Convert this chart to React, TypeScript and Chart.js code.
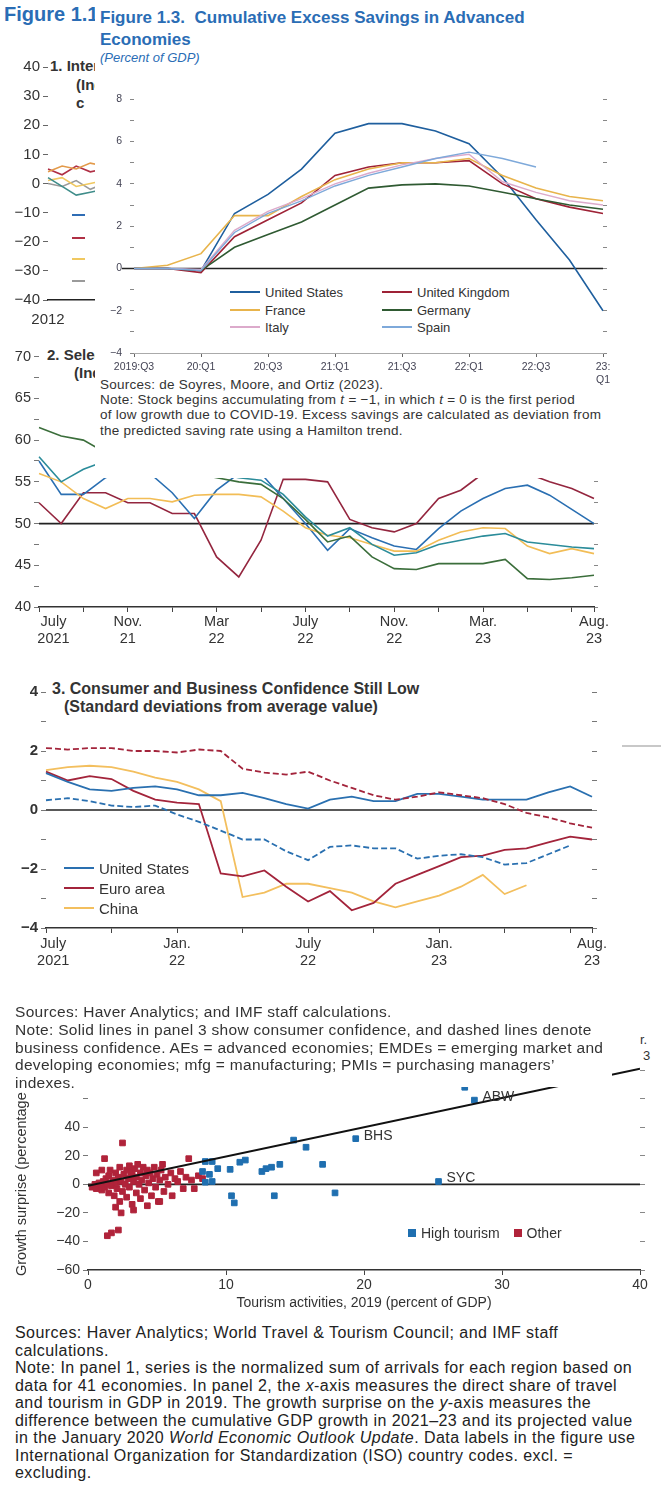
import React, { useEffect, useRef } from "react";
import { Chart, registerables } from "chart.js";

const FS = '"Liberation Sans",Arial,Helvetica,sans-serif';

// ---------- Background fragment: Figure 1.1 ----------
const figALabels = ["2012", "2013", "2014", "2015", "2016", "2017", "2018", "2019", "2020", "2021", "2022"];
const figAOrange = [4, 6, 5, 7, 6, 8, 7, 9, 5, 2, 4];
const figARed = [5, 3, 6, 4, 5, 6, 5, 7, 3, 1, 3];
const figATeal = [2, -1, -4, -3, -2, -1, 0, 1, -10, -5, 0];
const figAYellow = [1, 2, -1, 0, 1, 2, 1, 3, -6, -2, 1];
const figAGrey = [0, -1, 1, -2, 0, 1, 0, 2, -8, -4, -1];
const figAYTicks = [40, 30, 20, 10, 0, -10, -20, -30, -40];

// ---------- Figure 1.3 ----------
const fig13Quarters = ["2019:Q3", "2019:Q4", "2020:Q1", "2020:Q2", "2020:Q3", "2020:Q4", "2021:Q1", "2021:Q2", "2021:Q3", "2021:Q4", "2022:Q1", "2022:Q2", "2022:Q3", "2022:Q4", "2023:Q1"];
const fig13TickLabels: (string | string[])[] = ["2019:Q3", "", "20:Q1", "", "20:Q3", "", "21:Q1", "", "21:Q3", "", "22:Q1", "", "22:Q3", "", ["23:", "Q1"]];
const fig13US = [0, 0, -0.1, 2.6, 3.5, 4.7, 6.4, 6.85, 6.85, 6.5, 5.9, 4.3, 2.3, 0.4, -2.0];
const fig13UK = [0, 0, -0.2, 1.5, 2.3, 3.1, 4.4, 4.8, 5.0, 5.0, 5.1, 4.0, 3.3, 2.9, 2.6];
const fig13France = [0, 0.15, 0.7, 2.5, 2.5, 3.4, 4.2, 4.7, 5.0, 5.0, 5.2, 4.4, 3.8, 3.4, 3.2];
const fig13Germany = [0, 0, -0.1, 1.0, 1.6, 2.2, 3.0, 3.8, 3.95, 4.0, 3.9, 3.6, 3.3, 3.0, 2.8];
const fig13Italy = [0, 0, -0.05, 1.8, 2.7, 3.3, 4.0, 4.5, 4.9, 5.2, 5.4, 4.1, 3.6, 3.2, 3.0];
const fig13Spain = [0, 0, -0.1, 1.7, 2.6, 3.2, 3.9, 4.4, 4.8, 5.2, 5.5, 5.2, 4.8, null, null];

// ---------- Panel 2 (PMIs) ----------
const p2Months = ["2021-07", "2021-08", "2021-09", "2021-10", "2021-11", "2021-12", "2022-01", "2022-02", "2022-03", "2022-04", "2022-05", "2022-06", "2022-07", "2022-08", "2022-09", "2022-10", "2022-11", "2022-12", "2023-01", "2023-02", "2023-03", "2023-04", "2023-05", "2023-06", "2023-07", "2023-08"];
const p2TickLabels: (string | string[])[] = [["\u2003\u2003July", "\u2003\u20032021"], "", "", "", ["Nov.", "21"], "", "", "", ["Mar", "22"], "", "", "", ["July", "22"], "", "", "", ["Nov.", "22"], "", "", "", ["Mar.", "23"], "", "", "", "", ["Aug.", "23"]];
const p2Maroon = [52.5, 50, 53.7, 53.7, 52.5, 52.5, 51.2, 51.2, 46, 43.6, 48, 55.3, 55.3, 55, 50.5, 49.5, 49, 50, 53, 54, 56, 57, 56, 55, 54.2, 53];
const p2Blue = [57.5, 53.5, 53.5, 55.5, 57, 56, 53.7, 50.6, 54, 56, 56, 53, 50, 46.8, 49.4, 48.3, 47.3, 46.9, 49.4, 51.5, 53, 54.2, 54.6, 53.4, 51.7, 50];
const p2Gold = [56, 55, 53, 51.8, 53, 53, 52.6, 53.4, 53.5, 53.5, 53.2, 51.5, 49.5, 48.6, 48.3, 47.5, 46.7, 46.7, 48, 49, 49.5, 49.4, 47.3, 46.4, 47, 46.4];
const p2Green = [61.5, 60.5, 60, 58.5, 57.5, 57, 56.5, 56, 55.5, 55, 54.7, 53, 50.5, 47.8, 48.5, 46, 44.6, 44.5, 45.2, 45.2, 45.2, 45.7, 43.4, 43.3, 43.5, 43.8];
const p2Teal = [58, 55, 56.5, 57.5, 58, 57.5, 57, 56.5, 56, 55.5, 55.2, 53.5, 50.8, 48.5, 49.5, 47.5, 46.2, 46.5, 47.5, 48, 48.5, 48.8, 47.8, 47.5, 47.2, 47];

// ---------- Panel 3 (confidence) ----------
const p3Months = p2Months;
const p3TickLabels: (string | string[])[] = [["\u2003July", "\u20032021"], "", "", "", "", "", ["Jan.", "22"], "", "", "", "", "", ["July", "22"], "", "", "", "", "", ["Jan.", "23"], "", "", "", "", "", "", ["Aug.", "23"]];
const p3USCons = [1.25, 0.95, 0.7, 0.65, 0.75, 0.8, 0.7, 0.5, 0.5, 0.58, 0.4, 0.2, 0.05, 0.35, 0.45, 0.3, 0.3, 0.55, 0.55, 0.45, 0.35, 0.35, 0.35, 0.6, 0.8, 0.45];
const p3EACons = [1.3, 1.0, 1.15, 1.05, 0.65, 0.35, 0.25, 0.2, -2.15, -2.25, -2.05, -2.6, -3.1, -2.75, -3.4, -3.15, -2.5, -2.2, -1.9, -1.6, -1.55, -1.35, -1.3, -1.1, -0.9, -1.0];
const p3ChinaCons = [1.35, 1.45, 1.5, 1.45, 1.3, 1.1, 0.95, 0.7, 0.3, -2.95, -2.8, -2.5, -2.5, -2.65, -2.8, -3.1, -3.3, -3.1, -2.9, -2.6, -2.2, -2.85, -2.55, null, null, null];
const p3USBus = [0.33, 0.4, 0.3, 0.15, 0.1, 0.15, -0.15, -0.4, -0.7, -1.0, -1.0, -1.4, -1.7, -1.25, -1.2, -1.3, -1.3, -1.65, -1.55, -1.5, -1.6, -1.85, -1.8, -1.5, -1.2, null];
const p3EABus = [2.1, 2.05, 2.1, 2.1, 2.0, 2.0, 1.95, 2.05, 2.0, 1.4, 1.27, 1.2, 1.3, 1.0, 0.75, 0.5, 0.35, 0.45, 0.6, 0.5, 0.4, 0.2, -0.1, -0.25, -0.45, -0.6];

// ---------- Scatter (tourism) ----------
const highTourismX = [8.3, 8.5, 8.5, 8.8, 9.0, 9.0, 9.4, 10.3, 10.4, 10.6, 11.0, 11.4, 12.6, 12.9, 13.3, 13.5, 13.9, 14.9, 15.8, 17.0, 17.9, 19.4, 25.4, 28.0, 27.3];
const highTourismY = [9, 1.5, 16, 7, 2, 16, 11, 10.5, -8, -13, 15.5, 17, 9, 11, 12, -8, 14, 31, 26, 14, -6, 32, 2, 59, 68];
const otherX = [0.3, 0.5, 0.6, 0.8, 0.9, 1.0, 1.1, 1.2, 1.3, 1.4, 1.5, 1.5, 1.6, 1.7, 1.8, 1.9, 2.0, 2.0, 2.1, 2.2, 2.3, 2.3, 2.4, 2.5, 2.5, 2.6, 2.7, 2.8, 2.8, 2.9, 3.0, 3.0, 3.1, 3.2, 3.2, 3.3, 3.4, 3.5, 3.5, 3.6, 3.7, 3.8, 3.8, 3.9, 4.0, 4.1, 4.2, 4.3, 4.3, 4.4, 4.5, 4.6, 4.7, 4.8, 4.9, 5.0, 5.1, 5.2, 5.3, 5.4, 5.5, 5.6, 5.8, 6.0, 6.1, 6.3, 6.5, 6.7, 6.9, 7.1, 7.3, 7.5, 7.7, 8.0, 8.3, 1.2, 2.4, 1.4, 1.7, 2.2, 1.0, 0.6, 3.3, 2.0, 5.2];
const otherY = [-2, 0, -3, 1, -1, -4, 2, -2, 4, 0, -6, 6, 10, -1, 3, -8, 8, 1, -3, 5, 12, -12, 2, 29, -5, 7, 0, 10, -9, 4, 13, -2, 6, -14, 9, 2, 11, -6, 5, 14, 0, 8, -10, 3, 12, -4, 6, 10, -15, 1, 8, -8, 4, 12, -2, 7, -12, 3, 10, 14, -5, 5, 0, 8, -8, 4, 2, 9, -3, 5, 18, 3, -3, 6, 4, 18, -20, -36, -34, -32, 10, 8, -18, -16, -12];
const fitX = [0, 40];
const fitY = [-1, 81];
const scYLabels = [-60, -40, -20, 0, 20, 40];
const labelNames = ["BHS", "ABW", "SYC"];
const labelX = [19.4, 28.0, 25.4];
const labelY = [32, 59, 2];

// ---------- plugins ----------
const refLinesPlugin = {
  id: "refLines",
  beforeDatasetsDraw(chart: any, _a: any, opts: any) {
    const lines = (opts && opts.lines) || [];
    const { ctx, chartArea, scales } = chart;
    for (const l of lines) {
      const y = scales[l.axis || "y"].getPixelForValue(l.value);
      ctx.save();
      ctx.strokeStyle = l.color || "#000";
      ctx.lineWidth = l.width || 1.5;
      ctx.beginPath();
      ctx.moveTo(chartArea.left + (l.dx0 || 0), y);
      ctx.lineTo(chartArea.right + (l.dx1 || 0), y);
      ctx.stroke();
      ctx.restore();
    }
  },
};
const pointLabelsPlugin = {
  id: "pointLabels",
  afterDatasetsDraw(chart: any, _a: any, opts: any) {
    const names = (opts && opts.names) || [];
    if (!names.length) return;
    const { ctx, scales } = chart;
    ctx.save();
    ctx.font = `14px ${FS}`;
    ctx.fillStyle = "#333";
    ctx.textBaseline = "middle";
    names.forEach((n: string, i: number) => {
      const x = scales.x.getPixelForValue(opts.xs[i]);
      const y = scales.y.getPixelForValue(opts.ys[i]);
      ctx.fillText(n, x + 8, y - 3);
    });
    ctx.restore();
  },
};
Chart.register(...registerables, refLinesPlugin, pointLabelsPlugin);

const minus = (v: number) => (v < 0 ? "\u2212" + Math.abs(v) : String(v));

function ChartBox(props: { left: number; top: number; width: number; height: number; config: any; z?: number }) {
  const ref = useRef<HTMLCanvasElement>(null);
  useEffect(() => {
    const c = new Chart(ref.current as HTMLCanvasElement, props.config);
    return () => c.destroy();
  }, []);
  return (
    <div style={{ position: "absolute", left: props.left, top: props.top, width: props.width, height: props.height, zIndex: props.z || 0 }}>
      <canvas ref={ref} />
    </div>
  );
}

const T = (p: { x: number; y: number; size?: number; bold?: boolean; color?: string; italic?: boolean; children: any; z?: number; ls?: number }) => (
  <div
    style={{
      position: "absolute",
      left: p.x,
      top: p.y,
      fontSize: p.size || 13,
      fontWeight: p.bold ? 700 : 400,
      fontStyle: p.italic ? "italic" : "normal",
      color: p.color || "#333",
      fontFamily: FS,
      whiteSpace: "nowrap",
      lineHeight: 1.15,
      letterSpacing: p.ls || 0,
      zIndex: p.z || 0,
    }}
  >
    {p.children}
  </div>
);

const Lines = (p: { x: number; y: number; size: number; lh: number; color?: string; lines: any[]; ls?: number }) => (
  <div style={{ position: "absolute", left: p.x, top: p.y, fontFamily: FS, fontSize: p.size, lineHeight: p.lh + "px", color: p.color || "#333", whiteSpace: "nowrap", letterSpacing: p.ls || 0 }}>
    {p.lines.map((l, i) => (
      <div key={i}>{l}</div>
    ))}
  </div>
);

const base = (extra: any) => ({
  animation: false,
  responsive: true,
  maintainAspectRatio: false,
  plugins: { legend: { display: false }, tooltip: { enabled: false }, ...(extra.plugins || {}) },
  layout: extra.layout,
  scales: extra.scales,
  elements: { point: { radius: 0 }, line: { borderWidth: 1.6, tension: 0 } },
});

const tf = (size = 14, weight: any = "normal") => ({ family: FS, size, weight });
const ln = (label: string, data: any[], color: string, width = 1.6, dash?: number[]) => ({
  label,
  data,
  borderColor: color,
  backgroundColor: color,
  borderWidth: width,
  borderDash: dash || [],
  pointRadius: 0,
  spanGaps: false,
});
const stepTicks = (lo: number, hi: number, st: number) => (s: any) => {
  s.ticks = [];
  for (let v = lo; v <= hi + 1e-9; v += st) s.ticks.push({ value: v });
};

// Chart configs
const cfgA = {
  type: "line",
  data: {
    labels: figALabels,
    datasets: [
      ln("a", figAOrange, "#e39a4a"),
      ln("b", figARed, "#b03045"),
      ln("c", figATeal, "#3f8d8a"),
      ln("d", figAYellow, "#f0c860"),
      ln("e", figAGrey, "#9a9a9a"),
    ],
  },
  options: base({
    layout: { padding: { top: 10, left: 0, right: 0, bottom: 0 } },
    scales: {
      x: {
        grid: { display: false, drawTicks: false },
        border: { display: true, color: "#222", width: 1.5 },
        ticks: { font: tf(15), color: "#333", maxRotation: 0, autoSkip: false, padding: 11, callback: (_v: any, i: number) => (i === 0 ? figALabels[0] : "") },
        afterFit: (s: any) => { s.height = 40; },
      },
      y: {
        min: -40,
        max: 40,
        afterBuildTicks: stepTicks(-40, 40, 5),
        ticks: { font: tf(15), color: "#333", padding: 3, callback: (v: number) => (figAYTicks.includes(v) ? minus(v) : "") },
        grid: { drawOnChartArea: false, tickLength: 5, color: "#666" },
        border: { display: false },
        afterFit: (s: any) => { s.width = 48; },
      },
    },
  }),
};

const cfg13 = {
  type: "line",
  data: {
    labels: fig13Quarters,
    datasets: [
      ln("Spain", fig13Spain, "#7ea9da", 1.4),
      ln("Italy", fig13Italy, "#dcaacb", 1.4),
      ln("Germany", fig13Germany, "#2f5a32", 1.6),
      ln("France", fig13France, "#e8b44c", 1.6),
      ln("United Kingdom", fig13UK, "#9e2236", 1.6),
      ln("United States", fig13US, "#1f5f9e", 1.6),
    ],
  },
  options: base({
    layout: { padding: { top: 10, left: 0, right: 0, bottom: 0 } },
    plugins: { refLines: { lines: [{ value: 0, color: "#222", width: 1.6, dx0: -12 }] } },
    scales: {
      x: {
        grid: { drawOnChartArea: false, tickLength: 4, color: "#666", tickColor: (c: any) => (c.index % 2 === 0 ? "#666" : "transparent") },
        border: { display: true, color: "#aaa", width: 1 },
        ticks: { font: tf(10.5), color: "#445", maxRotation: 0, autoSkip: false, padding: 4, callback: (_v: any, i: number) => fig13TickLabels[i] },
        afterFit: (s: any) => { s.height = 32; },
      },
      y: {
        min: -4,
        max: 8,
        afterBuildTicks: stepTicks(-4, 8, 1),
        ticks: { font: tf(10.5), color: "#445", padding: 8, callback: (v: number) => (v % 2 === 0 ? minus(v) : "") },
        grid: { drawOnChartArea: false, tickLength: 4, color: "#888" },
        border: { display: false },
        afterFit: (s: any) => { s.width = 39; },
      },
      y2: {
        position: "right",
        min: -4,
        max: 8,
        afterBuildTicks: stepTicks(-4, 8, 1),
        ticks: { callback: () => "" },
        grid: { drawOnChartArea: false, tickLength: 4, color: "#888" },
        border: { display: false },
        afterFit: (s: any) => { s.width = 12; },
      },
    },
  }),
};

const cfgP2 = {
  type: "line",
  data: {
    labels: p2Months,
    datasets: [
      ln("Teal", p2Teal, "#2b8c9a", 1.6),
      ln("Green", p2Green, "#3b6e3b", 1.6),
      ln("Gold", p2Gold, "#f2bd56", 1.6),
      ln("Blue", p2Blue, "#2a6fb2", 1.6),
      ln("Maroon", p2Maroon, "#94263f", 1.6),
    ],
  },
  options: base({
    layout: { padding: { top: 10, left: 0, right: 0, bottom: 0 } },
    plugins: { refLines: { lines: [{ value: 50, color: "#222", width: 1.8 }] } },
    scales: {
      x: {
        grid: { drawOnChartArea: false, tickLength: 5, color: "#444", tickColor: (c: any) => (c.index % 2 === 0 || c.index === 25 ? "#444" : "transparent") },
        border: { display: true, color: "#333", width: 1.5 },
        ticks: { font: tf(14.5), color: "#333", maxRotation: 0, autoSkip: false, padding: 1, callback: (_v: any, i: number) => p2TickLabels[i] },
        afterFit: (s: any) => { s.height = 38; },
      },
      y: {
        min: 40,
        max: 70,
        afterBuildTicks: stepTicks(40, 70, 2.5),
        ticks: { font: tf(14.5), color: "#333", padding: 3, callback: (v: number) => (v % 5 === 0 ? String(v) : "") },
        grid: { drawOnChartArea: false, tickLength: 5, color: "#777" },
        border: { display: false },
        afterFit: (s: any) => { s.width = 39; },
      },
      y2: {
        position: "right",
        min: 40,
        max: 70,
        afterBuildTicks: stepTicks(40, 70, 2.5),
        ticks: { callback: () => "" },
        grid: { drawOnChartArea: false, tickLength: 4, color: "#888" },
        border: { display: false },
        afterFit: (s: any) => { s.width = 16; },
      },
    },
  }),
};

const cfgP3 = {
  type: "line",
  data: {
    labels: p3Months,
    datasets: [
      ln("United States (business)", p3USBus, "#2a70b0", 1.8, [6, 3]),
      ln("Euro area (business)", p3EABus, "#a3243b", 1.8, [6, 3]),
      ln("United States", p3USCons, "#2a70b0", 1.8),
      ln("Euro area", p3EACons, "#a3243b", 1.8),
      ln("China", p3ChinaCons, "#f3bf5e", 1.8),
    ],
  },
  options: base({
    layout: { padding: { top: 9, left: 0, right: 18, bottom: 0 } },
    plugins: { refLines: { lines: [{ value: 0, color: "#222", width: 1.6 }] } },
    scales: {
      x: {
        grid: { drawOnChartArea: false, tickLength: 5, color: "#444", tickColor: (c: any) => (c.index % 3 === 0 || c.index === 25 ? "#444" : "transparent") },
        border: { display: true, color: "#333", width: 1.5 },
        ticks: { font: tf(14.5), color: "#333", maxRotation: 0, autoSkip: false, padding: 2, callback: (_v: any, i: number) => p3TickLabels[i] },
        afterFit: (s: any) => { s.height = 42; },
      },
      y: {
        min: -4,
        max: 4,
        afterBuildTicks: stepTicks(-4, 4, 1),
        ticks: { font: tf(15, "bold"), color: "#333", padding: 3, callback: (v: number) => (v % 2 === 0 ? minus(v) : "") },
        grid: { drawOnChartArea: false, tickLength: 5, color: "#777" },
        border: { display: false },
        afterFit: (s: any) => { s.width = 46; },
      },
      y2: {
        position: "right",
        min: -4,
        max: 4,
        afterBuildTicks: stepTicks(-4, 4, 1),
        ticks: { callback: () => "" },
        grid: { drawOnChartArea: false, tickLength: 5, color: "#777" },
        border: { display: false },
        afterFit: (s: any) => { s.width = 10; },
      },
    },
  }),
};

const cfgSc = {
  type: "scatter",
  data: {
    datasets: [
      {
        type: "line",
        label: "fit",
        data: fitX.map((x, i) => ({ x, y: fitY[i] })),
        borderColor: "#111",
        borderWidth: 2,
        pointRadius: 0,
        order: 0,
      },
      {
        label: "Other",
        data: otherX.map((x, i) => ({ x, y: otherY[i] })),
        backgroundColor: "#b0233a",
        borderColor: "#b0233a",
        pointStyle: "rect",
        pointRadius: 4,
        order: 2,
      },
      {
        label: "High tourism",
        data: highTourismX.map((x, i) => ({ x, y: highTourismY[i] })),
        backgroundColor: "#1f6fb0",
        borderColor: "#1f6fb0",
        pointStyle: "rect",
        pointRadius: 4,
        order: 1,
      },
    ],
  },
  options: {
    ...base({
      layout: { padding: { top: 13, left: 0, right: 13, bottom: 0 } },
      plugins: {
        refLines: { lines: [{ value: 0, color: "#222", width: 1.6 }] },
        pointLabels: { names: labelNames, xs: labelX, ys: labelY },
      },
      scales: {
        x: {
          type: "linear",
          min: 0,
          max: 40,
          ticks: { stepSize: 10, font: tf(14), color: "#333", padding: 2, maxRotation: 0 },
          grid: { drawOnChartArea: false, tickLength: 5, color: "#444" },
          border: { display: true, color: "#333", width: 1.5 },
          title: { display: true, text: "Tourism activities, 2019 (percent of GDP)", font: tf(14), color: "#333", padding: 0 },
          afterFit: (s: any) => { s.height = 42; },
        },
        y: {
          min: -60,
          max: 85,
          afterBuildTicks: stepTicks(-60, 80, 10),
          ticks: { font: tf(14), color: "#333", padding: 3, callback: (v: number) => (scYLabels.includes(v) ? minus(v) : "") },
          grid: { drawOnChartArea: false, tickLength: 5, color: "#777" },
          border: { display: false },
          afterFit: (s: any) => { s.width = 88; },
        },
        y2: {
          position: "right",
          min: -60,
          max: 85,
          afterBuildTicks: stepTicks(-60, 80, 10),
          ticks: { callback: () => "" },
          grid: { drawOnChartArea: false, tickLength: 5, color: "#888" },
          border: { display: false },
          afterFit: (s: any) => { s.width = 8; },
        },
      },
    }),
    elements: { point: { radius: 4 } },
  },
};

const LegendLine = (p: { x: number; y: number; color: string; label: string; w?: number; size?: number }) => (
  <div style={{ position: "absolute", left: p.x, top: p.y - 9, display: "flex", alignItems: "center", fontFamily: FS, fontSize: p.size || 12, color: "#333", whiteSpace: "nowrap", height: 18 }}>
    <span style={{ display: "inline-block", width: p.w || 30, height: 0, borderTop: `2px solid ${p.color}`, marginRight: 5 }} />
    {p.label}
  </div>
);

export default function App() {
  return (
    <div style={{ position: "absolute", left: 0, top: 0, width: 661, height: 1506, overflow: "hidden", background: "#fff", fontFamily: FS }}>
      {/* background fragment figure 1.1 */}
      <T x={4} y={3} size={20} bold color="#2a6db5">Figure 1.11. Tourism</T>
      <T x={50} y={57} size={15} bold>1. International Tourist Arrivals</T>
      <T x={76} y={76} size={15} bold>(Index)</T>
      <T x={76} y={94} size={15} bold>c</T>
      <ChartBox left={0} top={55} width={200} height={285} config={cfgA} />
      <div style={{ position: "absolute", left: 72, top: 214, width: 13, borderTop: "2px solid #2f6db5" }} />
      <div style={{ position: "absolute", left: 72, top: 237, width: 13, borderTop: "2px solid #b03045" }} />
      <div style={{ position: "absolute", left: 72, top: 258, width: 13, borderTop: "2px solid #f0c860" }} />
      <div style={{ position: "absolute", left: 72, top: 280, width: 13, borderTop: "2px solid #9a9a9a" }} />

      {/* panel 2 */}
      <T x={47} y={346} size={15} bold>2. Selected PMIs</T>
      <T x={74} y={364} size={15} bold>(Index)</T>
      <ChartBox left={0} top={345} width={610} height={300} config={cfgP2} />

      {/* Figure 1.3 box */}
      <div style={{ position: "absolute", left: 95, top: 0, width: 517, height: 478, background: "#fff", zIndex: 2 }}>
        <T x={5} y={8} size={17} bold color="#2a6db5">Figure 1.3.&nbsp; Cumulative Excess Savings in Advanced</T>
        <T x={5} y={30} size={17} bold color="#2a6db5">Economies</T>
        <T x={5} y={51} size={13} italic color="#2a6db5">(Percent of GDP)</T>
        <LegendLine x={135} y={292} color="#1f5f9e" label="United States" size={13} />
        <LegendLine x={135} y={310} color="#e8b44c" label="France" size={13} />
        <LegendLine x={135} y={327} color="#dcaacb" label="Italy" size={13} />
        <LegendLine x={287} y={292} color="#9e2236" label="United Kingdom" size={13} />
        <LegendLine x={287} y={310} color="#2f5a32" label="Germany" size={13} />
        <LegendLine x={287} y={327} color="#7ea9da" label="Spain" size={13} />
        <Lines
          x={5}
          y={377}
          size={13.5}
          lh={15.2}
          ls={0.25}
          lines={[
            "Sources: de Soyres, Moore, and Ortiz (2023).",
            <span>Note: Stock begins accumulating from <i>t</i> = −1, in which <i>t</i> = 0 is the first period</span>,
            "of low growth due to COVID-19. Excess savings are calculated as deviation from",
            "the predicted saving rate using a Hamilton trend.",
          ]}
        />
      </div>
      <ChartBox left={95} top={85} width={520} height={300} config={cfg13} z={3} />

      {/* panel 3 */}
      <T x={52} y={680} size={16} bold>3. Consumer and Business Confidence Still Low</T>
      <T x={64} y={698} size={16} bold>(Standard deviations from average value)</T>
      <ChartBox left={0} top={680} width={620} height={290} config={cfgP3} />
      <LegendLine x={64} y={868} color="#2a70b0" label="United States" size={15} />
      <LegendLine x={64} y={888} color="#a3243b" label="Euro area" size={15} />
      <LegendLine x={64} y={908} color="#f3bf5e" label="China" size={15} />
      <div style={{ position: "absolute", left: 622, top: 745, width: 39, borderTop: "2px solid #c8c8c8" }} />
      <T x={640} y={1033} size={13}>r.</T>
      <T x={643} y={1049} size={13}>3</T>

      {/* scatter */}
      <ChartBox left={0} top={1050} width={661} height={262} config={cfgSc} />
      <div style={{ position: "absolute", left: 0, top: 995, width: 612, height: 92, background: "#fff", zIndex: 4 }} />
      <div style={{ position: "absolute", left: 0, top: 1003, zIndex: 5 }}>
        <Lines
          x={15}
          y={0}
          size={15.5}
          lh={17.8}
          ls={0.3}
          lines={[
            "Sources: Haver Analytics; and IMF staff calculations.",
            "Note: Solid lines in panel 3 show consumer confidence, and dashed lines denote",
            "business confidence. AEs = advanced economies; EMDEs = emerging market and",
            "developing economies; mfg = manufacturing; PMIs = purchasing managers’",
            "indexes.",
          ]}
        />
      </div>
      <div style={{ position: "absolute", left: 0, top: 1090, width: 40, height: 190, overflow: "hidden", zIndex: 5 }}>
        <div style={{ position: "absolute", left: 14, top: 186, transform: "rotate(-90deg)", transformOrigin: "left top", fontFamily: FS, fontSize: 14.5, color: "#333", whiteSpace: "nowrap", lineHeight: "15px" }}>
          Growth surprise (percentage points)
        </div>
      </div>
      <div style={{ position: "absolute", left: 408, top: 1225, display: "flex", alignItems: "center", fontFamily: FS, fontSize: 14, color: "#333" }}>
        <span style={{ width: 8, height: 8, background: "#1f6fb0", marginRight: 5 }} />
        High tourism
        <span style={{ width: 8, height: 8, background: "#b0233a", marginLeft: 14, marginRight: 5 }} />
        Other
      </div>

      <Lines
        x={15}
        y={1324}
        size={16}
        lh={17.5}
        ls={0.45}
        color="#222"
        lines={[
          "Sources: Haver Analytics; World Travel & Tourism Council; and IMF staff",
          "calculations.",
          "Note: In panel 1, series is the normalized sum of arrivals for each region based on",
          <span>data for 41 economies. In panel 2, the <i>x</i>-axis measures the direct share of travel</span>,
          <span>and tourism in GDP in 2019. The growth surprise on the <i>y</i>-axis measures the</span>,
          "difference between the cumulative GDP growth in 2021–23 and its projected value",
          <span>in the January 2020 <i>World Economic Outlook Update</i>. Data labels in the figure use</span>,
          "International Organization for Standardization (ISO) country codes. excl. =",
          "excluding.",
        ]}
      />
    </div>
  );
}
